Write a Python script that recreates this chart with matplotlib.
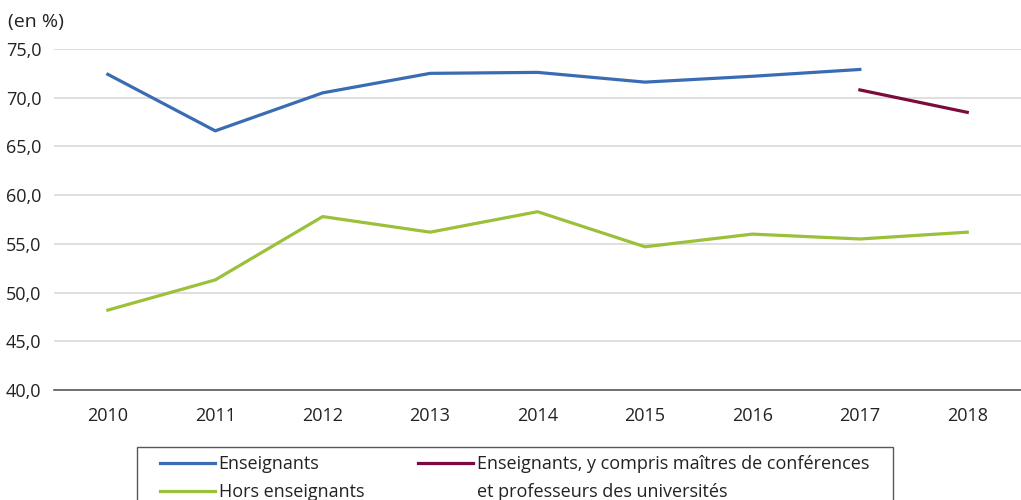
import matplotlib.pyplot as plt
from matplotlib.ticker import FuncFormatter
from matplotlib.lines import Line2D
from matplotlib.patches import Rectangle

plt.rcParams['font.family'] = ['Open Sans', 'DejaVu Sans']

years = ['2010', '2011', '2012', '2013', '2014', '2015', '2016', '2017', '2018']
enseignants = [72.4, 66.6, 70.5, 72.5, 72.6, 71.6, 72.2, 72.9, None]
ens_mcf = [None, None, None, None, None, None, None, 70.8, 68.5]
hors_ens = [48.2, 51.3, 57.8, 56.2, 58.3, 54.7, 56.0, 55.5, 56.2]

c_blue = '#3a6cb4'
c_green = '#9bc03a'
c_maroon = '#7b0a3e'

fig = plt.figure(figsize=(10.21, 5), dpi=100)
ax = fig.add_axes([0.053, 0.22, 0.947, 0.682])

x = list(range(len(years)))
nan = float('nan')
l_ens, = ax.plot(x, [v if v is not None else nan for v in enseignants], color=c_blue, lw=2.3)
l_hors, = ax.plot(x, hors_ens, color=c_green, lw=2.3)
l_mcf, = ax.plot(x, [v if v is not None else nan for v in ens_mcf], color=c_maroon, lw=2.3)

ax.set_xlim(-0.5, len(years) - 0.5)
ax.set_ylim(40, 75)
ax.set_yticks([40, 45, 50, 55, 60, 65, 70, 75])
ax.yaxis.set_major_formatter(FuncFormatter(lambda v, p: f'{v:.1f}'.replace('.', ',')))
ax.set_xticks(x)
ax.set_xticklabels(years)
ax.grid(axis='y', color='#d9d9d9', lw=1.2)
ax.set_axisbelow(True)
for s in ['top', 'right', 'left']:
    ax.spines[s].set_visible(False)
ax.spines['bottom'].set_color('#595959')
ax.spines['bottom'].set_linewidth(1.2)
ax.tick_params(axis='both', length=0, labelsize=13, colors='#222222')
ax.tick_params(axis='x', pad=12)
ax.tick_params(axis='y', pad=9)

fig.text(0.008, 0.955, '(en %)', fontsize=14, color='#222222', va='center')

# legend: frame drawn separately, maroon label split over two rows
blank = Line2D([], [], color='none')
handles = [l_ens, l_hors, l_mcf, blank]
labels = ['Enseignants', 'Hors enseignants',
          'Enseignants, y compris maîtres de conférences',
          'et professeurs des universités']
leg = fig.legend(handles, labels, loc='upper left',
                 bbox_to_anchor=(160 / 1021, 1 - 455 / 500),
                 ncol=2, fontsize=13, handlelength=3.05, handletextpad=0.2,
                 columnspacing=3.0, frameon=False, borderpad=0,
                 borderaxespad=0, labelspacing=0.55)
for t in leg.get_texts():
    t.set_color('#222222')

fig.patches.append(Rectangle((137 / 1021, -0.05), (893 - 137) / 1021, 0.05 + 53 / 500,
                             transform=fig.transFigure, fill=False,
                             edgecolor='#595959', lw=1.0))

fig.savefig('out.png', dpi=100)
